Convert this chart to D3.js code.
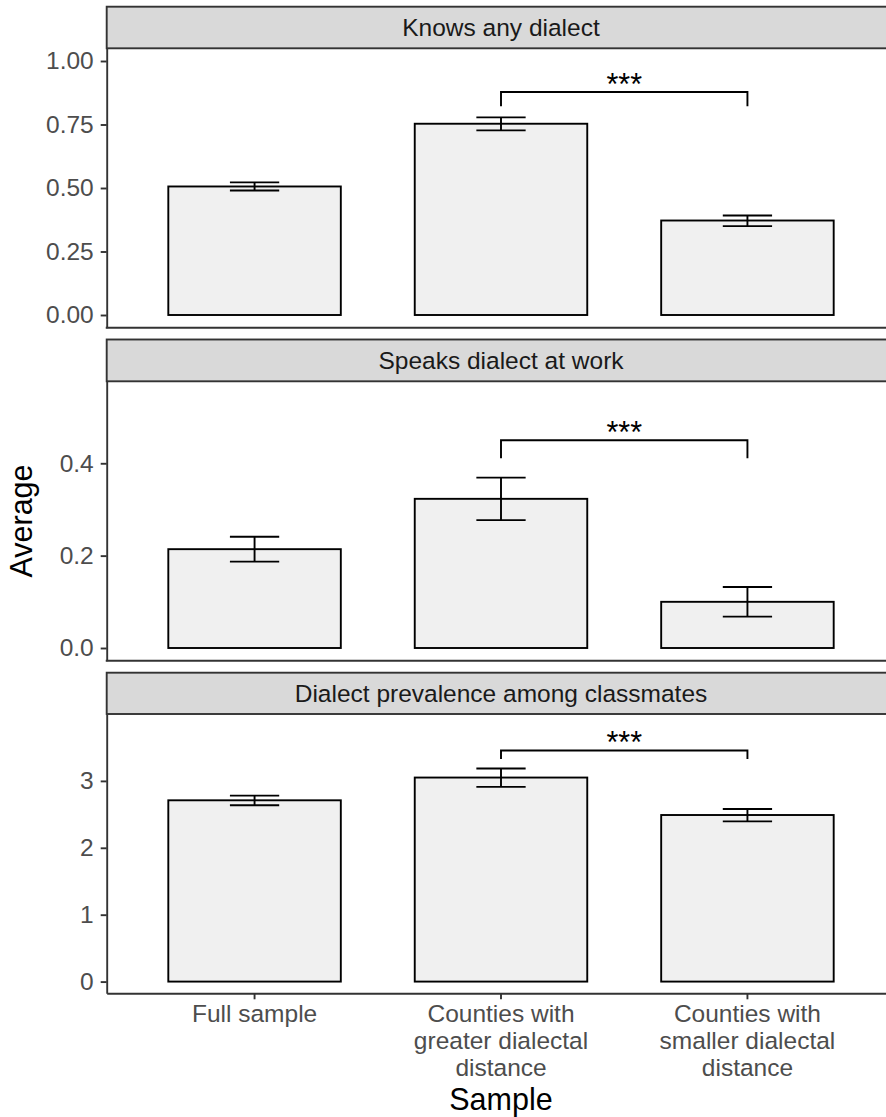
<!DOCTYPE html>
<html>
<head>
<meta charset="utf-8">
<script src="https://cdn.jsdelivr.net/npm/d3@7/dist/d3.min.js"></script>
<style>
  html, body { margin: 0; padding: 0; background: #ffffff; }
  svg { display: block; }
  text { font-family: "Liberation Sans", Arial, Helvetica, sans-serif; }
</style>
</head>
<body>
<script>
// ---------------- data ----------------
const categories = [
  "Full sample",
  "Counties with\ngreater dialectal\ndistance",
  "Counties with\nsmaller dialectal\ndistance"
];
const panelTitles = ["Knows any dialect", "Speaks dialect at work", "Dialect prevalence among classmates"];

const knowsMean = [0.506, 0.753, 0.372];
const knowsLow  = [0.490, 0.727, 0.350];
const knowsHigh = [0.522, 0.778, 0.392];

const workMean = [0.214, 0.323, 0.100];
const workLow  = [0.187, 0.277, 0.068];
const workHigh = [0.241, 0.369, 0.132];

const classMean = [2.71, 3.05, 2.49];
const classLow  = [2.635, 2.91, 2.395];
const classHigh = [2.78, 3.185, 2.58];

const knowsTicks = [0, 0.25, 0.5, 0.75, 1.0];
const workTicks  = [0, 0.2, 0.4];
const classTicks = [0, 1, 2, 3];

// significance brackets: [top, tip end] in data units, between groups 1 and 2
const knowsBracket = [0.878, 0.822];
const workBracket  = [0.450, 0.411];
const classBracket = [3.454, 3.328];
const sigLabel = "***";

const yLimits = [[-0.05, 1.05], [-0.0275, 0.5775], [-0.175, 4.0]];

// ---------------- layout ----------------
const W = 886, H = 1117;
const plotLeft = 106.7, plotRightFull = 895.3;
const panels = [
  {stripTop: 6.7,   stripBottom: 48.3,  bottom: 327.7, mean: knowsMean, low: knowsLow, high: knowsHigh, ticks: knowsTicks, fmt: d3.format(".2f"), bracket: knowsBracket},
  {stripTop: 339.5, stripBottom: 381.3, bottom: 660.7, mean: workMean,  low: workLow,  high: workHigh,  ticks: workTicks,  fmt: d3.format(".1f"), bracket: workBracket},
  {stripTop: 672.7, stripBottom: 714.0, bottom: 993.3, mean: classMean, low: classLow, high: classHigh, ticks: classTicks, fmt: d3.format("d"),   bracket: classBracket}
];

const smallFont = 24.5, titleFont = 30.5;
const axisColor = "#333333";

const svg = d3.select("body").append("svg").attr("width", W).attr("height", H);

const x = d3.scaleBand()
  .domain(d3.range(categories.length))
  .range([plotLeft, plotRightFull])
  .paddingInner(0.3)
  .paddingOuter(0.25);
const step = x.step();
const capHalf = step * 0.1;

panels.forEach((p, pi) => {
  const y = d3.scaleLinear().domain(yLimits[pi]).range([p.bottom, p.stripBottom]);
  const g = svg.append("g");

  // strip
  g.append("rect")
    .attr("x", plotLeft).attr("y", p.stripTop)
    .attr("width", plotRightFull - plotLeft + 10).attr("height", p.stripBottom - p.stripTop)
    .attr("fill", "#d9d9d9").attr("stroke", axisColor).attr("stroke-width", 1.9);
  g.append("text")
    .attr("x", (plotLeft + plotRightFull) / 2)
    .attr("y", (p.stripTop + p.stripBottom) / 2)
    .attr("dy", "0.35em")
    .attr("text-anchor", "middle")
    .attr("font-size", smallFont)
    .attr("fill", "#1a1a1a")
    .text(panelTitles[pi]);

  // bars
  g.selectAll("rect.bar").data(p.mean).join("rect")
    .attr("class", "bar")
    .attr("x", (d, i) => x(i))
    .attr("width", x.bandwidth())
    .attr("y", d => y(d))
    .attr("height", d => y(0) - y(d))
    .attr("fill", "#f0f0f0")
    .attr("stroke", "#000")
    .attr("stroke-width", 1.9);

  // error bars
  const eb = g.selectAll("g.eb").data(p.mean.map((m, i) => ({i, lo: p.low[i], hi: p.high[i]}))).join("g").attr("class", "eb");
  eb.append("line")
    .attr("x1", d => x(d.i) + x.bandwidth() / 2).attr("x2", d => x(d.i) + x.bandwidth() / 2)
    .attr("y1", d => y(d.lo)).attr("y2", d => y(d.hi));
  eb.append("line")
    .attr("x1", d => x(d.i) + x.bandwidth() / 2 - capHalf).attr("x2", d => x(d.i) + x.bandwidth() / 2 + capHalf)
    .attr("y1", d => y(d.lo)).attr("y2", d => y(d.lo));
  eb.append("line")
    .attr("x1", d => x(d.i) + x.bandwidth() / 2 - capHalf).attr("x2", d => x(d.i) + x.bandwidth() / 2 + capHalf)
    .attr("y1", d => y(d.hi)).attr("y2", d => y(d.hi));
  eb.selectAll("line").attr("stroke", "#000").attr("stroke-width", 1.9);

  // significance bracket
  const bx1 = x(1) + x.bandwidth() / 2, bx2 = x(2) + x.bandwidth() / 2;
  const [bt, be] = p.bracket;
  g.append("path")
    .attr("d", d3.line()([[bx1, y(be)], [bx1, y(bt)], [bx2, y(bt)], [bx2, y(be)]]))
    .attr("fill", "none").attr("stroke", "#000").attr("stroke-width", 1.9);
  g.append("text")
    .attr("x", (bx1 + bx2) / 2)
    .attr("y", y(bt) + 2.7)
    .attr("text-anchor", "middle")
    .attr("font-size", titleFont)
    .attr("fill", "#000")
    .text(sigLabel);

  // y axis
  const ya = g.append("g")
    .attr("transform", `translate(${plotLeft},0)`)
    .call(d3.axisLeft(y).tickValues(p.ticks).tickFormat(p.fmt).tickSize(6).tickSizeOuter(0).tickPadding(7));
  ya.select(".domain").attr("stroke", axisColor).attr("stroke-width", 1.9);
  ya.selectAll(".tick line").attr("stroke", axisColor).attr("stroke-width", 1.9);
  ya.selectAll(".tick text")
    .attr("font-size", smallFont).attr("fill", "#4d4d4d")
    .attr("font-family", "Liberation Sans, Arial, Helvetica, sans-serif");

  // bottom axis line
  if (pi < panels.length - 1) {
    g.append("line")
      .attr("x1", plotLeft - 0.95).attr("x2", W)
      .attr("y1", p.bottom).attr("y2", p.bottom)
      .attr("stroke", axisColor).attr("stroke-width", 1.9);
  } else {
    const xa = g.append("g")
      .attr("transform", `translate(0,${p.bottom})`)
      .call(d3.axisBottom(x).tickFormat(() => "").tickSize(6).tickSizeOuter(0));
    xa.select(".domain").attr("stroke", axisColor).attr("stroke-width", 1.9);
    xa.selectAll(".tick line").attr("stroke", axisColor).attr("stroke-width", 1.9);
    xa.selectAll(".tick text").remove();
    xa.selectAll(".tick").each(function(d) {
      const t = d3.select(this).append("text")
        .attr("text-anchor", "middle")
        .attr("font-size", smallFont)
        .attr("fill", "#4d4d4d");
      categories[d].split("\n").forEach((line, li) => {
        t.append("tspan").attr("x", 0).attr("y", 29.2 + li * 27).text(line);
      });
    });
  }
});

// axis titles
svg.append("text")
  .attr("transform", `translate(32,521) rotate(-90)`)
  .attr("text-anchor", "middle")
  .attr("font-size", titleFont)
  .attr("fill", "#000")
  .text("Average");
svg.append("text")
  .attr("x", (plotLeft + plotRightFull) / 2)
  .attr("y", 1110)
  .attr("text-anchor", "middle")
  .attr("font-size", titleFont)
  .attr("fill", "#000")
  .text("Sample");
</script>
</body>
</html>
